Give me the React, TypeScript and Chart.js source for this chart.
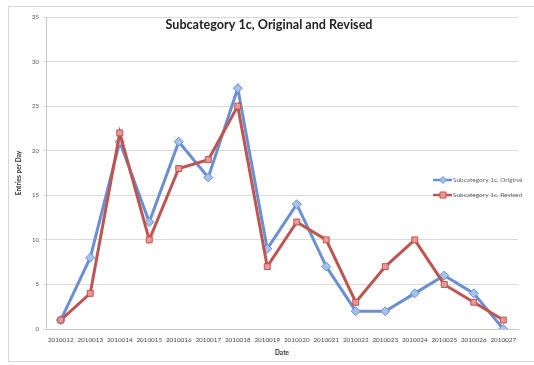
import React, { useEffect, useRef } from "react";
import { Chart, registerables } from "chart.js";

Chart.register(...registerables);

const dates = [
  "2010012", "2010013", "2010014", "2010015", "2010016", "2010017", "2010018", "2010019",
  "2010020", "2010021", "2010022", "2010023", "2010024", "2010025", "2010026", "2010027",
];
const originalEntries = [1, 8, 21, 12, 21, 17, 27, 9, 14, 7, 2, 2, 4, 6, 4, 0];
const revisedEntries = [1, 4, 22, 10, 18, 19, 25, 7, 12, 10, 3, 7, 10, 5, 3, 1];
const yTicks = [0, 5, 10, 15, 20, 25, 30, 35];

const chartTitle = "Subcategory 1c, Original and Revised";
const seriesNames = ["Subcategory 1c, Original", "Subcategory 1c, Revised"];

const BLUE = "#6a8fd2";
const BLUE_FILL = "#a3c3ec";
const RED = "#bd5552";
const RED_FILL = "#e99896";
const FONT = "Lato, 'Open Sans', sans-serif";

// Chart title drawn over the top of the plot area
const titlePlugin = {
  id: "overlayTitle",
  afterDraw(chart: Chart) {
    const ctx = chart.ctx;
    const area = chart.chartArea;
    ctx.save();
    ctx.font = `bold 12.6px ${FONT}`;
    ctx.fillStyle = "#222";
    ctx.textAlign = "center";
    ctx.textBaseline = "middle";
    ctx.fillText(chartTitle, (area.left + area.right) / 2 - 13, area.top + 8);
    ctx.restore();
  },
};

// Legend on the right, overlapping the plot area
const legendPlugin = {
  id: "sideLegend",
  afterDraw(chart: Chart) {
    const ctx = chart.ctx;
    const items = chart.data.datasets;
    const x0 = 433;
    const yStart = 180;
    const gap = 15;
    ctx.save();
    items.forEach((ds: any, i: number) => {
      const y = yStart + i * gap;
      ctx.strokeStyle = ds.borderColor;
      ctx.lineWidth = 2.5;
      ctx.beginPath();
      ctx.moveTo(x0, y);
      ctx.lineTo(x0 + 19, y);
      ctx.stroke();
      ctx.fillStyle = ds.pointBackgroundColor;
      ctx.strokeStyle = ds.pointBorderColor;
      ctx.lineWidth = 1;
      const cx = x0 + 10;
      ctx.beginPath();
      if (ds.pointStyle === "rectRot") {
        ctx.moveTo(cx, y - 3.5);
        ctx.lineTo(cx + 3.5, y);
        ctx.lineTo(cx, y + 3.5);
        ctx.lineTo(cx - 3.5, y);
        ctx.closePath();
      } else {
        ctx.rect(cx - 3, y - 3, 6, 6);
      }
      ctx.fill();
      ctx.stroke();
      ctx.font = `6.5px ${FONT}`;
      ctx.fillStyle = "#666";
      ctx.textAlign = "left";
      ctx.textBaseline = "middle";
      ctx.fillText(seriesNames[i], x0 + 20, y);
    });
    ctx.restore();
  },
};

export default function App() {
  const canvasRef = useRef<HTMLCanvasElement | null>(null);

  useEffect(() => {
    if (!canvasRef.current) return;
    const chart = new Chart(canvasRef.current, {
      type: "line",
      data: {
        labels: dates,
        datasets: [
          {
            label: seriesNames[0],
            data: originalEntries,
            order: 1,
            borderColor: BLUE,
            backgroundColor: BLUE,
            borderWidth: 3,
            pointStyle: "rectRot",
            pointRadius: 4.5,
            pointBackgroundColor: BLUE_FILL,
            pointBorderColor: BLUE,
            pointBorderWidth: 1,
            tension: 0,
          },
          {
            label: seriesNames[1],
            data: revisedEntries,
            order: 0,
            borderColor: RED,
            backgroundColor: RED,
            borderWidth: 3,
            pointStyle: "rect",
            pointRadius: 4.2,
            pointBackgroundColor: RED_FILL,
            pointBorderColor: RED,
            pointBorderWidth: 1,
            tension: 0,
          },
        ],
      },
      options: {
        animation: false,
        responsive: false,
        maintainAspectRatio: false,
        layout: { padding: { top: 17, right: 16, left: 0, bottom: 0 } },
        plugins: {
          legend: { display: false },
          title: { display: false },
          tooltip: { enabled: false },
        },
        scales: {
          x: {
            type: "category",
            offset: true,
            grid: { display: false, drawTicks: false },
            border: { display: true, color: "#c8c8c8", width: 1 },
            ticks: {
              autoSkip: false,
              maxRotation: 0,
              minRotation: 0,
              padding: 7,
              color: "#444",
              font: { family: FONT, size: 6.3 },
            },
            title: {
              display: true,
              text: "Date",
              color: "#333",
              font: { family: FONT, size: 6.5, weight: "bold" },
              padding: { top: 0, bottom: 8 },
            },
            afterFit(scale: any) {
              scale.height = 36;
            },
          },
          y: {
            min: 0,
            max: 35,
            afterBuildTicks(scale: any) {
              scale.ticks = yTicks.map((v) => ({ value: v }));
            },
            grid: {
              color: "#d9d9d9",
              lineWidth: 1,
              drawTicks: true,
              tickLength: 3,
            },
            border: { display: true, color: "#c8c8c8", width: 1 },
            ticks: {
              padding: 4,
              color: "#555",
              font: { family: FONT, size: 6 },
            },
            title: {
              display: true,
              text: "Entries per Day",
              color: "#333",
              font: { family: FONT, size: 6.5, weight: "bold" },
              padding: { top: 15, bottom: 0 },
            },
            afterFit(scale: any) {
              scale.width = 46;
            },
          },
        },
      },
      plugins: [titlePlugin, legendPlugin],
    });
    return () => chart.destroy();
  }, []);

  return (
    <div
      style={{
        position: "fixed",
        left: 0,
        top: 0,
        width: 534,
        height: 365,
        overflow: "hidden",
        background: "#fff",
      }}
    >
      <div
        style={{
          position: "absolute",
          left: 8,
          top: 6,
          width: 560,
          height: 356,
          border: "1px solid #d6d6d6",
          boxSizing: "border-box",
        }}
      />
      <canvas
        ref={canvasRef}
        width={534}
        height={365}
        style={{ position: "absolute", left: 0, top: 0, width: 534, height: 365 }}
      />
    </div>
  );
}
